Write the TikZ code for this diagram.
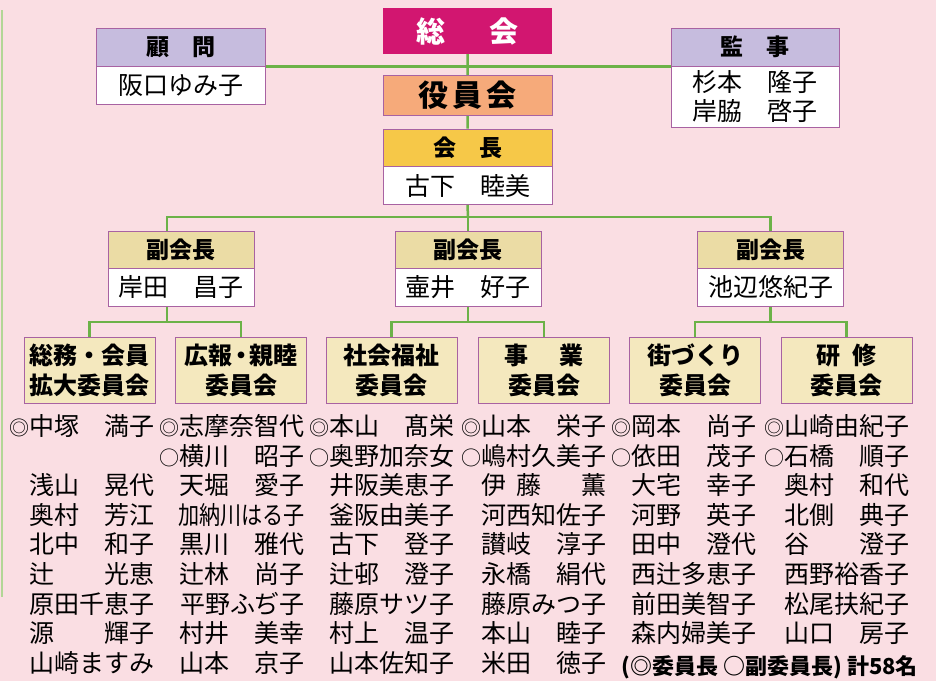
\documentclass[tikz,border=0pt]{standalone}
\usepackage{fontspec}
\setmainfont{Noto Sans CJK JP}
\usepackage{graphicx}
\usetikzlibrary{calc}

\definecolor{bgpink}{RGB}{250,222,227}
\definecolor{linegreen}{RGB}{108,178,72}
\definecolor{palegreen}{RGB}{178,214,150}
\definecolor{boxedge}{RGB}{168,98,162}
\definecolor{lavender}{RGB}{198,188,222}
\definecolor{tanhead}{RGB}{235,220,165}
\definecolor{cream}{RGB}{244,232,190}
\definecolor{gold}{RGB}{246,200,72}
\definecolor{salmon}{RGB}{246,170,122}
\definecolor{magenta}{RGB}{210,22,112}

% surname left, given name right, in five full-width characters
\newcommand\memb[2]{\makebox[5em]{#1\hfill#2}}
% chair and vice-chair marks
\newcommand\chr{\scalebox{.8}{◎}}
\newcommand\vchr{\scalebox{.8}{○}}

\begin{document}
\begin{tikzpicture}[x=1pt,y=-1pt,
    head/.style={draw=boxedge, line width=1pt, minimum height=38pt, inner sep=0pt,
        font=\fontsize{23}{27}\selectfont\bfseries},
    body/.style={draw=boxedge, line width=1pt, fill=white, minimum height=38pt, inner sep=0pt,
        align=center, font=\fontsize{25}{29}\selectfont},
    cmte/.style={draw=boxedge, line width=1pt, fill=cream, minimum width=131pt, minimum height=66pt,
        inner sep=0pt, align=center, font=\fontsize{24}{30}\selectfont\bfseries},
    conn/.style={draw=linegreen, line width=2.5pt},
    member/.style={anchor=east, inner sep=0pt, font=\fontsize{25}{30}\selectfont}]
    \useasboundingbox (0,0) rectangle (936,681);
    \fill[bgpink] (0,0) rectangle (936,681);
    \draw[palegreen, line width=1.5pt] (2,10) -- (2,597);

    % top
    \node[fill=magenta, minimum width=169pt, minimum height=46pt, inner sep=0pt, text=white,
        font=\fontsize{29}{33}\selectfont\bfseries] (gm) at (467.5,31) {総\hspace{1.5em}会};
    \node[draw=boxedge, line width=1pt, fill=salmon, minimum width=169pt, minimum height=40pt, inner sep=0pt,
        font=\fontsize{30}{34}\selectfont\bfseries] (exec) at (467.5,95.5) {役\hspace{.15em}員\hspace{.15em}会};
    \node[head, fill=gold, minimum width=169pt, minimum height=37pt] (pres) at (467.5,147.5) {会\hspace{1em}長};
    \node[body, minimum width=169pt] (presname) at (467.5,185.5) {\memb{古下}{睦美}};
    \node[head, fill=lavender, minimum width=169pt] (adv) at (181,47) {顧\hspace{1em}問};
    \node[body, minimum width=169pt] (advname) at (181,85.5) {阪口ゆみ子};
    \node[head, fill=lavender, minimum width=168pt] (aud) at (755,47) {監\hspace{1em}事};
    \node[body, minimum width=168pt, minimum height=61pt] (audname) at (755,96.5) {\memb{杉本}{隆子}\\\memb{岸脇}{啓子}};

    % vice presidents
    \foreach \x/\who [count=\i] in {181/{\memb{岸田}{昌子}}, 468/{\memb{壷井}{好子}}, 770.5/池辺悠紀子} {
        \node[head, fill=tanhead, minimum width=146pt, minimum height=37pt] (vp\i) at (\x,249.5) {副会長};
        \node[body, minimum width=146pt] (vp\i name) at (\x,287) {\who};
    }

    % committees
    \node[cmte] (c1) at (89.5,370) {総務・会員\\拡大委員会};
    \node[cmte] (c2) at (241,370) {広報{\kern-.15em}・{\kern-.15em}親睦\\委員会};
    \node[cmte] (c3) at (391.5,370) {社会福祉\\委員会};
    \node[cmte] (c4) at (544,370) {事\hspace{1.3em}業\\委員会};
    \node[cmte] (c5) at (695,370) {街づくり\\委員会};
    \node[cmte] (c6) at (846.5,370) {研\hspace{.5em}修\\委員会};

    % connectors
    \coordinate (hub) at (468,217);
    \coordinate (j1) at (167,217);
    \coordinate (j3) at (770.5,217);
    \coordinate (k1) at (167,322);
    \coordinate (k2) at (468,322);
    \coordinate (k3) at (770.5,322);
    \draw[conn] (adv.south east) -- (aud.south west);
    \draw[conn] (gm.south) -- (exec.north) (exec.south) -- (pres.north) (presname.south) -- (hub);
    \draw[conn] (j1 |- vp1.north) -- (j1) -- (j3) -- (vp3.north);
    \draw[conn] (hub) -- (vp2.north);
    \draw[conn] (j1 |- vp1name.south) -- (k1);
    \draw[conn] (vp2name.south) -- (k2);
    \draw[conn] (vp3name.south) -- (k3);
    \draw[conn] (c1.north) |- (k1) -| (c2.north);
    \draw[conn] (c3.north) |- (k2) -| (c4.north);
    \draw[conn] (c5.north) |- (k3) -| (c6.north);

    % members
    \node[member] (m1-1) at (155,426) {\chr\memb{中塚}{満子}};
    \foreach \who [count=\i from 3] in {\memb{浅山}{晃代}, \memb{奥村}{芳江}, \memb{北中}{和子},
        \memb{辻}{光恵}, 原田千恵子, \memb{源}{輝子}, 山崎ますみ}
        \node[member] (m1-\i) at (155,{426+29.6*(\i-1)}) {\who};
    \foreach \who [count=\i] in {\chr 志摩奈智代, \vchr\memb{横川}{昭子}, \memb{天堀}{愛子},
        {\scalebox{.845}[1]{加納川はる子}}, \memb{黒川}{雅代}, \memb{辻林}{尚子}, 平野ふぢ子,
        \memb{村井}{美幸}, \memb{山本}{京子}}
        \node[member] (m2-\i) at (305,{426+29.6*(\i-1)}) {\who};
    \foreach \who [count=\i] in {\chr\memb{本山}{髙栄}, \vchr 奥野加奈女, 井阪美恵子, 釜阪由美子,
        \memb{古下}{登子}, \memb{辻邨}{澄子}, 藤原サツ子, \memb{村上}{温子}, 山本佐知子}
        \node[member] (m3-\i) at (455,{426+29.6*(\i-1)}) {\who};
    \foreach \who [count=\i] in {\chr\memb{山本}{栄子}, \vchr 嶋村久美子, \memb{伊\hspace{.4em}藤}{薫}, 河西知佐子,
        \memb{讃岐}{淳子}, \memb{永橋}{絹代}, 藤原みつ子, \memb{本山}{睦子}, \memb{米田}{徳子}}
        \node[member] (m4-\i) at (607,{426+29.6*(\i-1)}) {\who};
    \foreach \who [count=\i] in {\chr\memb{岡本}{尚子}, \vchr\memb{依田}{茂子}, \memb{大宅}{幸子},
        \memb{河野}{英子}, \memb{田中}{澄代}, 西辻多恵子, 前田美智子, 森内婦美子}
        \node[member] (m5-\i) at (757,{426+29.6*(\i-1)}) {\who};
    \foreach \who [count=\i] in {\chr 山崎由紀子, \vchr\memb{石橋}{順子}, \memb{奥村}{和代},
        \memb{北側}{典子}, \memb{谷}{澄子}, 西野裕香子, 松尾扶紀子, \memb{山口}{房子}}
        \node[member] (m6-\i) at (910,{426+29.6*(\i-1)}) {\who};

    \node[anchor=east, inner sep=0pt, font=\fontsize{22}{26}\selectfont\bfseries] (note) at (918,667)
        {(◎委員長 ○副委員長) 計58名};
\end{tikzpicture}
\end{document}
